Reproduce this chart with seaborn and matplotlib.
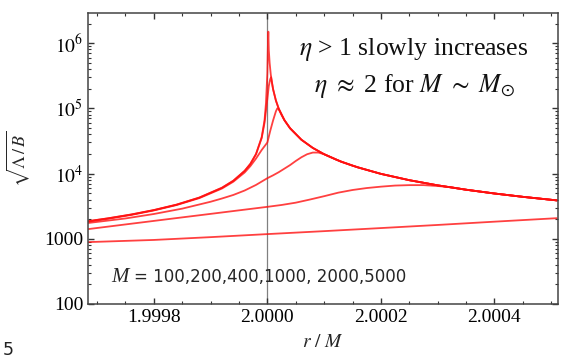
import numpy as np
import pandas as pd
import matplotlib
matplotlib.use("Agg")
import matplotlib.pyplot as plt
import matplotlib.ticker as ticker
import seaborn as sns

# =========================================================================
# DATA: offsets from r/M = 2 in units of 1e-5
# =========================================================================
masses = [100, 200, 400, 1000, 2000, 5000]

dx_100 = [-31.5, -20, -10, 0, 10, 20, 30, 40, 51]
val_100 = [890, 960, 1060, 1180, 1310, 1460, 1630, 1830, 2070]

dx_200 = [-31.5, -25, -20, -15, -10, -5, 0, 2.5, 5, 7.5, 10, 12.5, 15, 17.5,
          20, 22.5, 25, 27.5, 30, 32.5, 35, 40, 45, 51]
val_200 = [1410, 1660, 1880, 2130, 2410, 2730, 3090, 3300, 3580, 4000, 4500,
           5100, 5600, 6000, 6300, 6550, 6650, 6650, 6450, 6150, 5650,
           4950, 4400, 3880]

dx_400 = [-31.5, -25, -20, -15, -10, -8, -6, -4, -2, 0, 1, 2, 3, 4, 5, 6, 7,
          8, 9, 10, 12, 15, 20, 25, 30, 35, 40, 45, 51]
val_400 = [1750, 2050, 2400, 2900, 3700, 4150, 4700, 5500, 6700, 8500, 9400,
           10500, 11900, 13500, 15600, 17800, 19800, 21000, 21000, 19800, 16500,
           13200, 9900, 7920, 6600, 5660, 4950, 4400, 3880]

dx_1000 = [-31.5, -28, -24, -20, -16, -12, -8, -6, -4, -3, -2, -1, 0, 0.5, 1,
           1.5, 1.75, 2, 2.5, 3, 4, 6, 8, 10, 13, 16, 20, 25, 30, 35, 40, 45, 51]
val_1000 = [1830, 2030, 2320, 2720, 3290, 4200, 5900, 7500, 10400, 13000, 17000,
            23000, 30000, 45000, 65000, 90000, 100000, 97000, 79000, 66000, 49500,
            33000, 24750, 19800, 15200, 12400, 9900, 7920, 6600, 5660, 4950, 4400, 3880]

dx_2000 = [-31.5, -28, -24, -20, -16, -12, -8, -6, -4, -3, -2, -1, -0.5, 0, 0.25,
           0.5, 0.65, 0.8, 1, 1.5, 2, 3, 4, 6, 8, 10, 13, 16, 20, 25, 30, 35, 40, 45, 51]
val_2000 = [1860, 2060, 2350, 2750, 3330, 4270, 6050, 7750, 11000, 14000, 19800,
            35000, 60000, 140000, 220000, 280000, 300000, 248000, 198000, 132000,
            99000, 66000, 49500, 33000, 24750, 19800, 15200, 12400, 9900, 7920,
            6600, 5660, 4950, 4400, 3880]

dx_5000 = [-31.5, -28, -24, -20, -16, -12, -8, -6, -4, -3, -2, -1, -0.5, -0.25, 0,
           0.1, 0.17, 0.25, 0.4, 0.6, 1, 1.5, 2, 3, 4, 6, 8, 10, 13, 16, 20, 25,
           30, 35, 40, 45, 51]
val_5000 = [1870, 2067, 2360, 2760, 3343, 4286, 6070, 7773, 11030, 14120, 20000,
            36300, 65900, 119500, 350000, 1000000, 1500000, 790000, 495000, 330000,
            198000, 132000, 99000, 66000, 49500, 33000, 24750, 19800, 15200, 12400,
            9900, 7920, 6600, 5660, 4950, 4400, 3880]

x_ticks = [1.9998, 2.0000, 2.0002, 2.0004]
y_ticks = [100, 1000, 1e4, 1e5, 1e6]
y_ticklabels = ["100", "1000", r"$10^4$", r"$10^5$", r"$10^6$"]

curves = {
    100: (dx_100, val_100),
    200: (dx_200, val_200),
    400: (dx_400, val_400),
    1000: (dx_1000, val_1000),
    2000: (dx_2000, val_2000),
    5000: (dx_5000, val_5000),
}

frames = []
for m in masses:
    dx, val = curves[m]
    frames.append(pd.DataFrame({
        "r": 2.0 + np.array(dx) * 1e-5,
        "y": val,
        "M": str(m),
    }))
df = pd.concat(frames, ignore_index=True)

# =========================================================================
# PLOT
# =========================================================================
sns.set_style("ticks")
plt.rcParams["font.family"] = ["Liberation Serif", "DejaVu Serif"]
plt.rcParams["mathtext.fontset"] = "stix"

fig = plt.figure(figsize=(5.61, 3.58), dpi=100)
ax = fig.add_axes([88 / 561, 1 - 304 / 358, 470 / 561, 291 / 358])

sns.lineplot(data=df, x="r", y="y", hue="M", units="M", estimator=None,
             palette=["#ff1010"] * len(masses), linewidth=1.3, alpha=0.8,
             legend=False, ax=ax, sort=False)

ax.axvline(2.0, color="#808080", lw=0.9, zorder=0)

ax.set_yscale("log")
ax.set_xlim(1.999684, 2.000512)
ax.set_ylim(100, 2.9e6)

ax.set_xticks(x_ticks)
ax.xaxis.set_major_formatter(ticker.FormatStrFormatter("%.4f"))
ax.xaxis.set_minor_locator(ticker.MultipleLocator(0.00005))
ax.set_yticks(y_ticks)
ax.set_yticklabels(y_ticklabels)
ax.yaxis.set_minor_locator(ticker.LogLocator(base=10, subs=np.arange(2, 10)))
ax.yaxis.set_minor_formatter(ticker.NullFormatter())

ax.tick_params(which="both", direction="in", top=True, right=True,
               colors="#333333", labelcolor="black", labelsize=14)
ax.tick_params(which="major", length=4, width=1)
ax.tick_params(which="minor", length=2.2, width=0.8)
for s in ax.spines.values():
    s.set_color("#444444")
    s.set_linewidth(1.1)

ax.set_xlabel(r"$r\ /\ M$", fontsize=14, labelpad=6)
ax.set_ylabel(r"$\sqrt{\Lambda\,/\,B}$", fontsize=13, labelpad=9)

ax.text(0.694, 0.856, r"$\eta$ > 1 slowly increases", transform=ax.transAxes,
        ha="center", va="baseline", fontsize=18.5, color="#111111")
ax.text(0.694, 0.729, r"$\eta\ \approx$ 2 for $M\ \sim\ M_{\odot}$",
        transform=ax.transAxes, ha="center", va="baseline", fontsize=18.5,
        color="#111111")
ax.text(0.049, 0.076, "M", transform=ax.transAxes, ha="left", va="baseline",
        fontsize=15, style="italic")
ax.text(0.098, 0.076, "= 100,200,400,1000, 2000,5000", transform=ax.transAxes,
        ha="left", va="baseline", fontsize=12, family=["DejaVu Sans"])

fig.text(0.004, 0.048, "5", ha="left", va="top", fontsize=12.5,
         family=["DejaVu Sans"], color="#222222")

plt.savefig("out.png", dpi=100)
